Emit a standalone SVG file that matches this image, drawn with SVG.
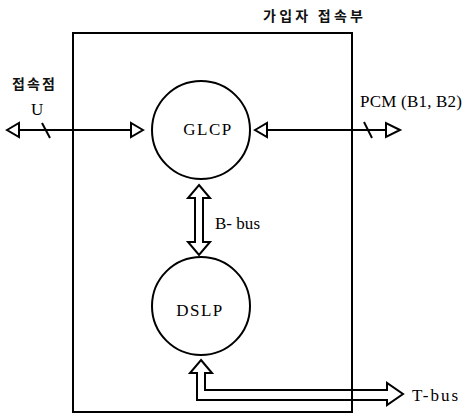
<svg xmlns="http://www.w3.org/2000/svg" width="465" height="416" viewBox="0 0 465 416">
<style>
.ln{stroke:#000;stroke-width:2;fill:none}
.hd{stroke:#000;stroke-width:2;fill:#fff;stroke-linejoin:miter}
.lat{font-family:"Liberation Serif","DejaVu Serif",serif;font-size:17px;fill:#000}
.kr{font-family:"Noto Sans CJK KR","Noto Sans",sans-serif;font-size:14px;font-weight:bold;fill:#111}
</style>
<rect width="465" height="416" fill="#fff"/>
<g id="subscriber-interface">
<rect class="ln" x="73" y="33" width="279" height="379"/>
<text class="kr" x="263" y="21" textLength="100">가입자 접속부</text>
</g>
<g id="GLCP">
<circle class="ln" cx="201" cy="130" r="49"/>
<text class="lat" x="208" y="135" text-anchor="middle" letter-spacing="1.5">GLCP</text>
</g>
<g id="DSLP">
<circle class="ln" cx="201" cy="306" r="49"/>
<text class="lat" x="200" y="316" text-anchor="middle" letter-spacing="1.5">DSLP</text>
</g>
<g id="connectors">
<line class="ln" x1="18" y1="130" x2="131" y2="130"/>
<polygon class="hd" points="7,130 19,123 19,137"/>
<polygon class="hd" points="143,130 131,123 131,137"/>
<line class="ln" x1="42" y1="123" x2="50" y2="138"/>
<line class="ln" x1="266" y1="130" x2="386" y2="130"/>
<polygon class="hd" points="255,130 267,123 267,137"/>
<polygon class="hd" points="400,130 386,123 386,137"/>
<line class="ln" x1="364" y1="122" x2="372" y2="138"/>
<polygon class="hd" points="199,185 210,198 203,198 203,242 210,242 199,255 188,242 195,242 195,198 188,198"/>
<polygon class="ln" points="201,360 212,373 205,373 205,390 387,390 387,383 403,394 387,405 387,400 197,400 197,373 190,373"/>
</g>
<g id="labels">
<text class="kr" x="12" y="89" textLength="43">접속점</text>
<text class="lat" x="31" y="115">U</text>
<text class="lat" x="360" y="107" textLength="102">PCM (B1, B2)</text>
<text class="lat" x="215" y="229" textLength="45">B- bus</text>
<text class="lat" x="412" y="401" textLength="46">T-bus</text>
</g>
</svg>
